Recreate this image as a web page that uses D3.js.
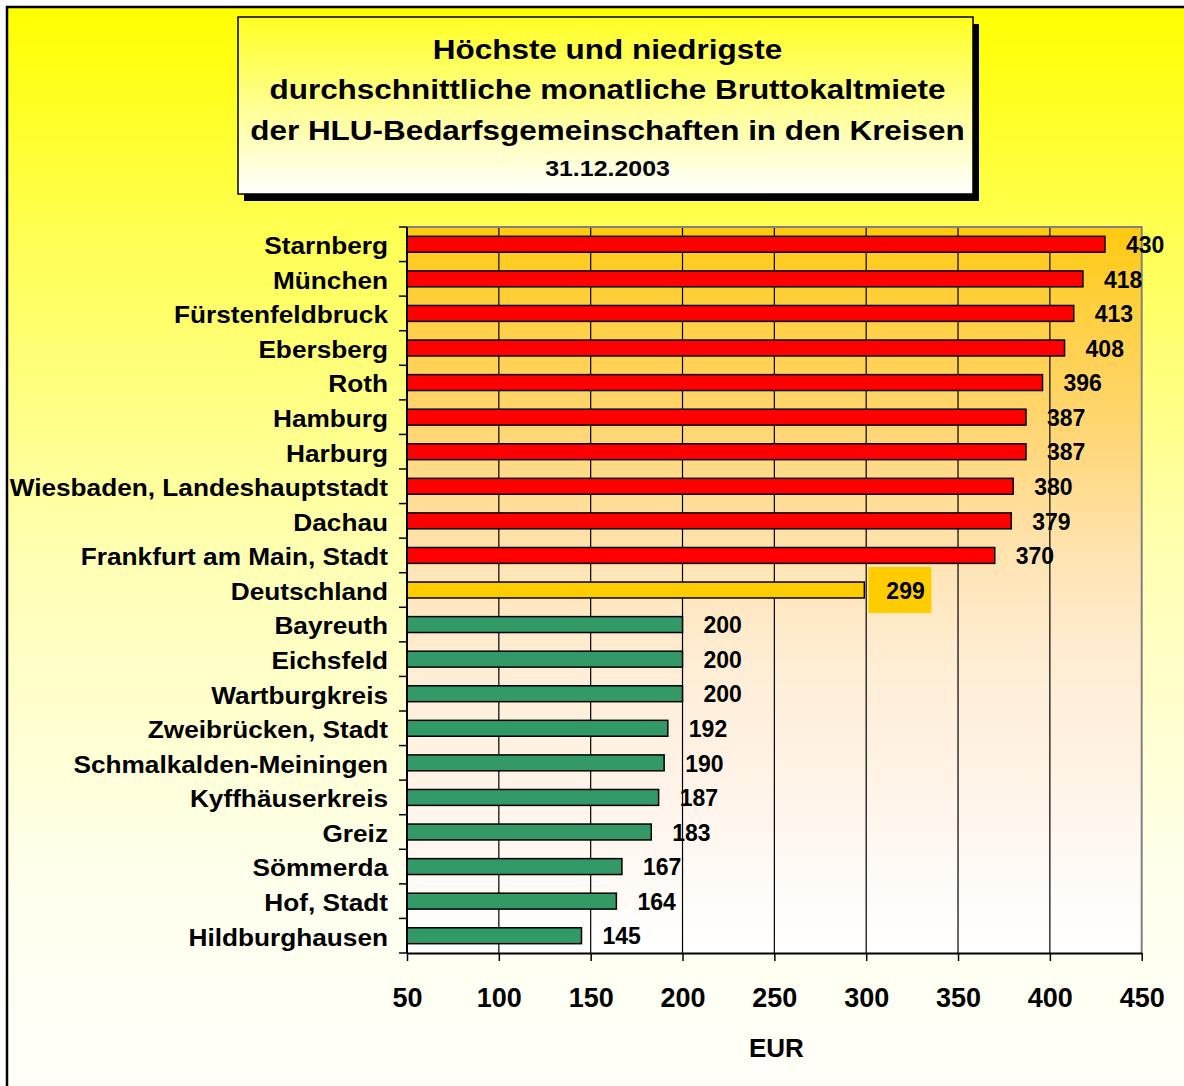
<!DOCTYPE html>
<html lang="de">
<head>
<meta charset="UTF-8">
<title>Bruttokaltmiete HLU-Bedarfsgemeinschaften</title>
<script src="https://d3js.org/d3.v7.min.js"></script>
<style>
  body { margin: 0; background: #fff; }
  svg text { font-family: Arial, "Liberation Sans", sans-serif; font-weight: bold; fill: #000; }
</style>
</head>
<body>
<div id="chart"></div>
<script>
// Daten
const kreise = [
  "Starnberg", "München", "Fürstenfeldbruck", "Ebersberg", "Roth", "Hamburg",
  "Harburg", "Wiesbaden, Landeshauptstadt", "Dachau", "Frankfurt am Main, Stadt",
  "Deutschland",
  "Bayreuth", "Eichsfeld", "Wartburgkreis", "Zweibrücken, Stadt",
  "Schmalkalden-Meiningen", "Kyffhäuserkreis", "Greiz", "Sömmerda", "Hof, Stadt",
  "Hildburghausen"
];
const miete = [430, 418, 413, 408, 396, 387, 387, 380, 379, 370,
               299,
               200, 200, 200, 192, 190, 187, 183, 167, 164, 145];
const gruppe = ["hoch", "hoch", "hoch", "hoch", "hoch", "hoch", "hoch", "hoch", "hoch", "hoch",
                "bund",
                "niedrig", "niedrig", "niedrig", "niedrig", "niedrig", "niedrig", "niedrig", "niedrig", "niedrig", "niedrig"];
const xTicks = [50, 100, 150, 200, 250, 300, 350, 400, 450];
const titelZeilen = [
  "Höchste und niedrigste",
  "durchschnittliche monatliche Bruttokaltmiete",
  "der HLU-Bedarfsgemeinschaften in den Kreisen"
];
const datum = "31.12.2003";
const achsenTitel = "EUR";

const farben = { hoch: "#ff0000", bund: "#ffcc00", niedrig: "#339966" };

const width = 1184, height = 1086;
const plot = { left: 407, right: 1141.7, top: 227, bottom: 953 };

const svg = d3.select("#chart").append("svg")
  .attr("width", width)
  .attr("height", height);

// Verläufe
const defs = svg.append("defs");
function verlauf(id, stops, x2 = 0) {
  const g = defs.append("linearGradient").attr("id", id)
    .attr("x1", 0).attr("y1", 0).attr("x2", x2).attr("y2", 1);
  stops.forEach(s => g.append("stop").attr("offset", s[0]).attr("stop-color", s[1]));
}
verlauf("bgGrad", [[0, "#ffff00"], [0.2, "#ffff50"], [0.5, "#ffffb4"], [0.8, "#ffffee"], [1, "#fffffa"]]);
verlauf("titleGrad", [[0, "#ffff22"], [1, "#ffffff"]]);
verlauf("plotGrad", [[0, "#ffc910"], [0.1, "#ffcf3a"], [0.28, "#ffd674"], [0.46, "#ffe4b4"],
                     [0.6, "#ffedd4"], [0.8, "#fff5ec"], [1, "#ffffff"]]);

// Rahmen
svg.append("rect")
  .attr("x", 7).attr("y", 7)
  .attr("width", width + 20).attr("height", height + 20)
  .attr("fill", "url(#bgGrad)")
  .attr("stroke", "#000").attr("stroke-width", 2.5);

// Titelbox mit Schatten
const box = { x: 238, y: 17, w: 735, h: 177 };
svg.append("rect")
  .attr("x", box.x + 6).attr("y", box.y + 7)
  .attr("width", box.w).attr("height", box.h)
  .attr("fill", "#000");
svg.append("rect")
  .attr("x", box.x).attr("y", box.y)
  .attr("width", box.w).attr("height", box.h)
  .attr("fill", "url(#titleGrad)")
  .attr("stroke", "#000").attr("stroke-width", 1.5);

const titelX = box.x + box.w / 2 + 2;
svg.selectAll("text.titel")
  .data(titelZeilen)
  .join("text")
  .attr("class", "titel")
  .attr("text-anchor", "middle")
  .attr("font-size", 27)
  .attr("transform", (d, i) => `translate(${titelX},${59 + i * 40.3}) scale(1.165,1)`)
  .text(d => d);

svg.append("text")
  .attr("text-anchor", "middle")
  .attr("font-size", 21.5)
  .attr("transform", `translate(${titelX},176) scale(1.16,1)`)
  .text(datum);

// Skalen
const x = d3.scaleLinear().domain([50, 450]).range([plot.left, plot.right]);
const y = d3.scaleBand().domain(kreise).range([plot.top, plot.bottom])
  .paddingInner(0.54).paddingOuter(0.27);

// Zeichenfläche
svg.append("rect")
  .attr("x", plot.left).attr("y", plot.top)
  .attr("width", plot.right - plot.left).attr("height", plot.bottom - plot.top)
  .attr("fill", "url(#plotGrad)");

// Gitterlinien
svg.append("g")
  .selectAll("line")
  .data(xTicks.slice(1, -1))
  .join("line")
  .attr("x1", d => x(d)).attr("x2", d => x(d))
  .attr("y1", plot.top).attr("y2", plot.bottom)
  .attr("stroke", "#000").attr("stroke-width", 1.2);

// Rand oben/rechts
svg.append("path")
  .attr("d", `M${plot.left},${plot.top}H${plot.right}V${plot.bottom}`)
  .attr("fill", "none")
  .attr("stroke", "#808080").attr("stroke-width", 2);

// Balken
const daten = kreise.map((k, i) => ({ kreis: k, wert: miete[i], gruppe: gruppe[i] }));

svg.append("g")
  .selectAll("rect")
  .data(daten)
  .join("rect")
  .attr("x", x(50))
  .attr("y", d => y(d.kreis))
  .attr("width", d => x(d.wert) - x(50))
  .attr("height", y.bandwidth())
  .attr("fill", d => farben[d.gruppe])
  .attr("stroke", "#000").attr("stroke-width", 1.5);

// x-Achse
const xAxis = svg.append("g")
  .attr("transform", `translate(0,${plot.bottom})`)
  .call(d3.axisBottom(x).tickValues(xTicks).tickSize(8).tickPadding(27).tickSizeOuter(0));
xAxis.select(".domain").attr("stroke", "#000").attr("stroke-width", 2);
xAxis.selectAll(".tick line").attr("stroke", "#000").attr("stroke-width", 1.5);
xAxis.selectAll(".tick text")
  .attr("font-size", 27)
  .attr("font-family", null)
  .attr("fill", "#000");

svg.append("text")
  .attr("text-anchor", "middle")
  .attr("x", (plot.left + plot.right) / 2 + 2)
  .attr("y", 1057)
  .attr("font-size", 26)
  .text(achsenTitel);

// y-Achse
svg.append("line")
  .attr("x1", plot.left).attr("x2", plot.left)
  .attr("y1", plot.top).attr("y2", plot.bottom)
  .attr("stroke", "#000").attr("stroke-width", 2);

svg.append("g")
  .selectAll("line")
  .data(d3.range(kreise.length + 1))
  .join("line")
  .attr("x1", plot.left - 8).attr("x2", plot.left)
  .attr("y1", i => plot.top + i * y.step())
  .attr("y2", i => plot.top + i * y.step())
  .attr("stroke", "#000").attr("stroke-width", 1.5);

svg.append("g")
  .selectAll("text")
  .data(daten)
  .join("text")
  .attr("text-anchor", "end")
  .attr("font-size", 24.5)
  .attr("dy", "0.4em")
  .attr("transform", d => `translate(388,${y(d.kreis) + y.bandwidth() / 2}) scale(1.07,1)`)
  .text(d => d.kreis);

// Wertebeschriftungen
const bund = daten.filter(d => d.gruppe === "bund");
svg.append("g")
  .selectAll("rect")
  .data(bund)
  .join("rect")
  .attr("x", d => x(d.wert) + 4)
  .attr("y", d => y(d.kreis) + y.bandwidth() / 2 - 23)
  .attr("width", 63)
  .attr("height", 46)
  .attr("fill", farben.bund);

svg.append("g")
  .selectAll("text")
  .data(daten)
  .join("text")
  .attr("x", d => x(d.wert) + (d.gruppe === "bund" ? 22 : 21))
  .attr("y", d => y(d.kreis) + y.bandwidth() / 2)
  .attr("dy", "0.38em")
  .attr("font-size", 23)
  .text(d => d.wert);
</script>
</body>
</html>
